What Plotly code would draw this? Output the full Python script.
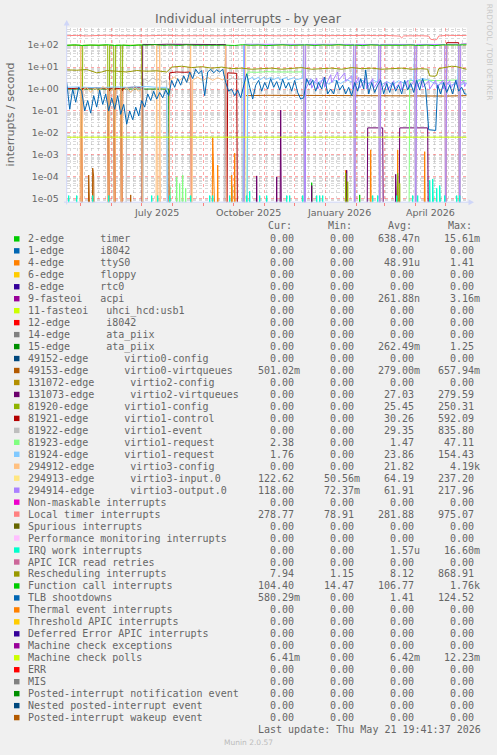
import plotly.graph_objects as go
import pandas as pd

W, H = 497, 755
START = pd.Timestamp("2025-04-16 19:41:37")
END = pd.Timestamp("2026-05-21 19:41:37")
ZERO = 1e-9  # a rate of zero; rrdtool draws it down to the floor of the log axis

TITLE = "Individual interrupts - by year"
Y_TITLE = "interrupts / second"
Y_TICK_VALUES = [1e-5, 1e-4, 1e-3, 1e-2, 1e-1, 1, 10, 100]
Y_TICK_LABELS = ["1e-05", "1e-04", "1e-03", "1e-02", "1e-01", "1e+00", "1e+01", "1e+02"]
X_TICK_DATES = ["2025-07-16", "2025-10-16", "2026-01-14", "2026-04-16"]
X_TICK_LABELS = ["July 2025", "October 2025", "January 2026", "April 2026"]
LAST_UPDATE = "Last update: Thu May 21 19:41:37 2026"
VERSION = "Munin 2.0.57"
WATERMARK = "RRDTOOL / TOBI OETIKER"

NAMES = [
    "2-edge      timer", "1-edge      i8042", "4-edge      ttyS0", "6-edge      floppy",
    "8-edge      rtc0", "9-fasteoi   acpi", "11-fasteoi   uhci_hcd:usb1", "12-edge      i8042",
    "14-edge      ata_piix", "15-edge      ata_piix", "49152-edge      virtio0-config",
    "49153-edge      virtio0-virtqueues", "131072-edge      virtio2-config",
    "131073-edge      virtio2-virtqueues", "81920-edge      virtio1-config",
    "81921-edge      virtio1-control", "81922-edge      virtio1-event",
    "81923-edge      virtio1-request", "81924-edge      virtio1-request",
    "294912-edge      virtio3-config", "294913-edge      virtio3-input.0",
    "294914-edge      virtio3-output.0", "Non-maskable interrupts", "Local timer interrupts",
    "Spurious interrupts", "Performance monitoring interrupts", "IRQ work interrupts",
    "APIC ICR read retries", "Rescheduling interrupts", "Function call interrupts",
    "TLB shootdowns", "Thermal event interrupts", "Threshold APIC interrupts",
    "Deferred Error APIC interrupts", "Machine check exceptions", "Machine check polls",
    "ERR", "MIS", "Posted-interrupt notification event", "Nested posted-interrupt event",
    "Posted-interrupt wakeup event",
]
COLORS = [
    "#00CC00", "#0066B3", "#FF8000", "#FFCC00", "#330099", "#990099", "#CCFF00", "#FF0000",
    "#808080", "#008F00", "#00487D", "#B35A00", "#B38F00", "#6B006B", "#8FB300", "#B30000",
    "#BEBEBE", "#80FF80", "#80C9FF", "#FFC080", "#FFE680", "#AA80FF", "#EE00CC", "#FF8080",
    "#666600", "#FFBFFF", "#00FFCC", "#CC6699", "#999900", "#00CC00", "#0066B3", "#FF8000",
    "#FFCC00", "#330099", "#990099", "#CCFF00", "#FF0000", "#808080", "#008F00", "#00487D",
    "#B35A00",
]
Z4 = "0.00"
CUR = [Z4, Z4, Z4, Z4, Z4, Z4, Z4, Z4, Z4, Z4, Z4, "501.02m", Z4, Z4, Z4, Z4, Z4, "2.38", "1.76",
       Z4, "122.62", "118.00", Z4, "278.77", Z4, Z4, Z4, Z4, "7.94", "104.40", "580.29m", Z4, Z4,
       Z4, Z4, "6.41m", Z4, Z4, Z4, Z4, Z4]
MIN = [Z4] * 20 + ["50.56m", "72.37m", Z4, "78.91", Z4, Z4, Z4, Z4, "1.15", "14.47"] + [Z4] * 11
AVG = ["638.47n", Z4, "48.91u", Z4, Z4, "261.88n", Z4, Z4, Z4, "262.49m", Z4, "279.00m", Z4,
       "27.03", "25.45", "30.26", "29.35", "1.47", "23.86", "21.82", "64.19", "61.91", Z4,
       "281.88", Z4, Z4, "1.57u", Z4, "8.12", "106.77", "1.41", Z4, Z4, Z4, Z4, "6.42m",
       Z4, Z4, Z4, Z4, Z4]
MAX = ["15.61m", Z4, "1.41", Z4, Z4, "3.16m", Z4, Z4, Z4, "1.25", Z4, "657.94m", Z4, "279.59",
       "250.31", "592.09", "835.80", "47.11", "154.43", "4.19k", "237.20", "217.96", Z4,
       "975.07", Z4, Z4, "16.60m", Z4, "868.91", "1.76k", "124.52", Z4, Z4, Z4, Z4, "12.23m",
       Z4, Z4, Z4, Z4, Z4]

# ---- series (x = days since START, y = interrupts / second) ----
TIMER_SPIKE_DAYS = [103, 165, 245, 293, 313]
TIMER_SPIKE_VALS = [3.7e-5, 4e-5, 5.4e-5, 1.5e-5, 2.5e-5]

TTYS0_SPIKE_DAYS = [146, 151, 165, 168, 279, 304, 331, 358]
TTYS0_SPIKE_VALS = [6e-3, 3.4e-4, 1.2e-4, 1.2e-3, 2e-4, 1.7e-3, 1.7e-3, 1.4e-3]

ATA15_DAYS = [0, 20, 40, 60, 80, 102, 103, 400]
ATA15_VALS = [1.0, 1.0, 0.98, 1.0, 1.0, 1.0, ZERO, ZERO]

V0Q_DAYS = [0, 21, 22, 23, 25, 26, 27, 28, 63, 64, 65, 177, 178, 200, 230, 260, 290, 320, 340,
            360, 380, 400]
V0Q_VALS = [ZERO, ZERO, 1.2e-4, ZERO, ZERO, 2.5e-4, 1.0e-4, ZERO, ZERO, 1.5e-5, ZERO, ZERO, 0.5,
            0.52, 0.5, 0.51, 0.5, 0.49, 0.47, 0.45, 0.48, 0.501]

V2Q_DAYS = [0, 75, 76, 80, 90, 100, 110, 120, 130, 140, 150, 159, 160, 189, 190, 191, 209, 210,
            211, 213, 214, 215, 244, 245, 246, 279, 280, 281, 300, 301, 316, 317, 328, 329, 330,
            332, 333, 361, 362, 392, 393, 394, 400]
V2Q_VALS = [ZERO, ZERO, 108, 110, 107, 110, 108, 110, 108, 110, 107, 108, ZERO, ZERO, 1.1e-4,
            ZERO, ZERO, 1.0e-4, ZERO, ZERO, 0.11, ZERO, ZERO, 4e-5, ZERO, ZERO, 2e-4, ZERO, ZERO,
            0.017, 0.017, ZERO, ZERO, 1.3e-4, ZERO, ZERO, 0.017, 0.017, ZERO, ZERO, 2.5e-5, ZERO,
            ZERO]

V1CFG_DAYS = [0, 14, 15, 16, 41, 42, 43, 47, 48, 49, 54, 55, 56, 75, 76, 278, 279, 280, 281, 282,
              330, 331, 332, 333, 334, 400]
V1CFG_VALS = [100, 100, ZERO, 100, 100, ZERO, 100, 100, ZERO, 100, 100, ZERO, 100, 100, ZERO,
              ZERO, 1.5e-4, ZERO, 6e-5, ZERO, ZERO, 1.5e-4, ZERO, 5e-5, ZERO, ZERO]

V1CTL_DAYS = [0, 5, 10, 14, 15, 16, 30, 41, 42, 43, 47, 48, 49, 54, 55, 56, 65, 75, 76, 102, 103,
              110, 118, 124, 125, 160, 161, 170, 171, 379, 380, 386, 392, 393, 400]
V1CTL_VALS = [1.1, 1.05, 1.1, 1.1, ZERO, 1.1, 1.15, 1.1, ZERO, 1.1, 1.1, ZERO, 1.1, 1.05, ZERO,
              1.1, 1.2, 1.2, ZERO, ZERO, 5.5, 6.0, 5.8, 6.0, ZERO, ZERO, 5.5, 5.2, ZERO, ZERO,
              130, 128, 130, ZERO, ZERO]

V1EVT_DAYS = [0, 59, 60, 64, 68, 72, 75, 76, 77, 82, 86, 90, 93, 96, 100, 101, 157, 158, 162,
              166, 170, 175, 176, 400]
V1EVT_VALS = [ZERO, ZERO, 1.2, 0.7, 1.5, 0.9, 1.3, ZERO, 3.0, 2.2, 3.2, 2.5, 2.8, 2.0, 2.5, ZERO,
              ZERO, 3.0, 2.6, 3.2, 2.7, 3.0, ZERO, ZERO]

V1REQA_DAYS = [0, 109, 110, 111, 113, 114, 116, 117, 119, 120, 180, 181, 190, 200, 210, 220,
               230, 237, 238, 342, 343, 350, 360, 370, 380, 390, 400]
V1REQA_VALS = [ZERO, ZERO, 1.0e-4, ZERO, 5e-5, ZERO, 1.2e-4, ZERO, 3e-5, ZERO, ZERO, 6.0, 5.8,
               6.2, 6.0, 5.8, 6.0, 6.1, ZERO, ZERO, 2.5, 2.3, 2.6, 2.4, 2.5, 2.6, 2.38]

V1REQB_DAYS = [0, 10, 20, 30, 40, 50, 60, 70, 80, 90, 100, 101, 176, 177, 178, 180, 181, 186,
               187, 192, 193, 198, 199, 205, 206, 212, 213, 220, 221, 228, 229, 236, 237, 238,
               239, 245, 250, 256, 262, 268, 274, 280, 286, 287, 288, 289, 295, 301, 307, 311,
               312, 313, 314, 320, 326, 332, 338, 344, 347, 348, 349, 350, 356, 361, 366, 372,
               378, 384, 390, 391, 392, 393, 394, 398, 400]
V1REQB_VALS = [1.2, 1.25, 1.2, 1.15, 1.2, 1.25, 1.2, 1.25, 1.3, 1.2, 1.2, ZERO, ZERO, 100, ZERO,
               ZERO, 2.6, 3.5, 2.6, 3.5, 2.6, 3.6, 2.7, 3.5, 2.6, 3.5, 2.6, 3.4, 2.6, 3.4, 2.6,
               3.2, 100, ZERO, 2.0, 2.8, 1.8, 2.6, 1.7, 2.5, 1.8, 2.7, 2.0, 100, ZERO, 1.8, 2.6,
               1.7, 2.5, 2.0, 100, ZERO, 1.5, 2.2, 1.6, 2.4, 1.8, 2.8, 2.2, 100, ZERO, 2.5, 3.0,
               2.7, 2.0, 1.6, 2.0, 1.5, 1.8, 1.7, 100, ZERO, 1.5, 1.9, 1.76]

V3CFG_DAYS = [0, 13, 14, 15, 16, 20, 24, 28, 32, 36, 41, 42, 43, 47, 48, 49, 54, 55, 56, 60, 64,
              68, 72, 75, 76, 89, 90, 91, 92, 93, 94, 102, 103, 108, 112, 117, 121, 123, 124,
              125, 126, 131, 136, 141, 146, 151, 156, 158, 159, 160, 400]
V3CFG_VALS = [ZERO, ZERO, 100, ZERO, 0.9, 1.2, 0.7, 1.1, 0.8, 1.3, 1.0, ZERO, 0.8, 1.1, ZERO,
              0.9, 1.0, ZERO, 0.8, 1.2, 0.7, 1.1, 0.8, 1.0, ZERO, ZERO, 100, ZERO, ZERO, 100,
              ZERO, ZERO, 2.5, 3.5, 2.4, 3.3, 2.3, 3.0, 100, ZERO, 2.5, 3.5, 2.4, 3.4, 2.5, 3.3,
              2.6, 3.0, 100, ZERO, ZERO]

V3IN_DAYS = [0, 178, 179, 200, 220, 237, 238, 239, 260, 287, 288, 289, 312, 313, 314, 348, 349,
             350, 378, 379, 380, 392, 393, 394, 400]
V3IN_VALS = [ZERO, ZERO, 98, 102, 100, 100, ZERO, 100, 98, 100, ZERO, 100, 100, ZERO, 100, 100,
             ZERO, 100, 100, ZERO, 100, 105, ZERO, 110, 122.62]

V3OUT_DAYS = [0, 177, 178, 200, 220, 237, 238, 239, 260, 287, 288, 289, 312, 313, 314, 348, 349,
              350, 378, 379, 380, 392, 393, 394, 400]
V3OUT_VALS = [ZERO, ZERO, 110, 108, 109, 108, ZERO, 108, 109, 108, ZERO, 108, 108, ZERO, 108,
              108, ZERO, 108, 108, ZERO, 108, 110, ZERO, 112, 118]

V3OUT_LOW_DAYS = [238, 239, 244, 245, 250, 251, 257, 258, 264, 265, 271, 272, 278, 279, 285, 286,
                  292, 293, 299, 300, 306, 307, 313, 314, 320, 321, 327, 328, 334, 335, 341, 342,
                  348, 349, 355, 356, 362, 363, 369, 370, 376, 377, 383, 384, 390, 391, 397, 398,
                  400]
V3OUT_LOW_VALS = [ZERO, 1.0, 3.0, 1.1, 3.2, 1.0, 3.4, 1.2, 4.5, 2.0, 6.0, 2.5, 5.5, 2.2, 4.0,
                  1.0, 3.4, 1.1, 3.2, 1.0, 3.0, 1.1, 2.8, 0.9, 2.2, 0.9, 2.4, 1.0, 2.2, 0.9, 2.5,
                  1.0, 2.6, 1.1, 2.5, 1.2, 2.4, 1.0, 2.6, 1.1, 2.5, 1.0, 2.4, 1.1, 2.6, 1.2, 2.5,
                  1.3, 2.0]

LOCAL_TIMER_DAYS = [0, 10, 20, 30, 40, 50, 60, 70, 80, 90, 100, 110, 120, 130, 140, 150, 160,
                    170, 180, 190, 200, 210, 220, 230, 240, 250, 260, 270, 280, 290, 300, 310,
                    320, 333, 335, 337, 345, 355, 362, 364, 368, 370, 372, 380, 390, 400]
LOCAL_TIMER_VALS = [270, 280, 265, 275, 285, 270, 280, 272, 268, 278, 282, 270, 275, 285, 270,
                    268, 280, 276, 272, 280, 275, 268, 282, 276, 270, 285, 272, 278, 270, 275,
                    280, 272, 278, 260, 215, 265, 275, 270, 260, 185, 175, 180, 260, 282, 276,
                    278.77]

IRQ_WORK_DAYS = [2, 10, 26, 42, 85, 91, 103, 124, 143, 146, 163, 180, 183, 193, 200, 220, 223,
                 236, 250, 253, 256, 306, 311, 330, 346, 351, 363, 366, 370, 373, 378, 390, 393]
IRQ_WORK_VALS = [1.4e-5, 1.4e-5, 1.4e-5, 1.4e-5, 1.4e-5, 1.4e-5, 1.4e-5, 1.4e-5, 1.4e-5, 1.4e-5,
                 1.4e-5, 1.4e-5, 2.2e-5, 1.4e-5, 1.4e-5, 1.4e-5, 1.4e-5, 1.4e-5, 1.4e-5, 1.4e-5,
                 1.4e-5, 1.4e-5, 1.4e-5, 1.4e-5, 1.4e-5, 1.4e-5, 7e-5, 8e-5, 3e-5, 4e-5, 1.4e-5,
                 1.4e-5, 1.4e-5]

RESCHED_DAYS = [0, 10, 20, 30, 35, 40, 50, 60, 70, 80, 90, 100, 105, 115, 125, 135, 145, 155,
                165, 175, 185, 195, 205, 215, 225, 235, 245, 255, 265, 275, 285, 295, 305, 315,
                325, 335, 345, 355, 361, 363, 368, 370, 372, 380, 385, 390, 395, 400]
RESCHED_VALS = [7.5, 7.2, 7.8, 5.5, 6.0, 7.0, 6.5, 6.0, 7.0, 6.5, 6.8, 6.0, 10.0, 11.0, 9.5,
                10.5, 9.0, 10.0, 8.5, 9.0, 8.0, 8.5, 9.0, 8.0, 8.5, 9.5, 8.0, 8.5, 9.0, 8.0, 9.5,
                8.5, 9.0, 8.0, 8.5, 9.0, 8.0, 8.5, 8.0, 4.0, 3.8, 4.2, 8.5, 9.5, 11.0, 10.5, 9.0,
                7.94]

FUNC_CALL_DAYS = list(range(0, 400, 8)) + [400]
FUNC_CALL_VALS = [98, 104, 96, 102, 99, 105, 97, 101, 95, 103, 100, 106, 98, 102, 97, 104, 99,
                  101, 96, 103, 100, 97, 105, 99, 102, 96, 101, 104, 98, 100, 103, 97, 102, 99,
                  105, 98, 101, 96, 103, 100, 98, 104, 99, 102, 97, 101, 95, 103, 99, 102, 104.4]

TLB_DAYS = list(range(0, 297 + 1, 3)) + [299, 302, 305, 308, 311, 314, 317, 320, 323, 326, 329,
                                         332, 335, 338, 341, 344, 347, 350, 353, 356, 359, 362,
                                         366, 369, 371, 374, 377, 380, 383, 386, 389, 392, 395,
                                         398, 400]
TLB_VALS = [2.0, 0.12, 1.0, 0.25, 1.2, 0.8, 0.1, 0.3, 0.08, 0.5, 0.15, 0.9, 0.2, 0.6, 0.1, 0.4,
            0.12, 0.5, 0.07, 0.2, 0.025, 0.1, 0.04, 0.15, 0.06, 0.3, 0.15, 0.6, 0.3, 0.8, 0.35,
            0.7, 0.4, 0.9, 0.5, 2.5, 1.2, 3.0, 1.5, 4.0, 2.0, 6.0, 3.0, 8.0, 5.0, 7.0, 0.5, 6.0,
            8.0, 5.5, 7.5, 6.0, 8.0, 2.0, 0.8, 1.0, 0.5, 0.9, 0.4, 1.5, 5.0, 1.2, 0.35, 1.5, 2.5,
            0.8, 2.0, 1.0, 3.0, 1.2, 2.2, 0.9, 2.8, 1.1, 2.0, 0.8, 2.5, 0.7, 0.35, 0.4, 3.0, 1.5,
            2.5, 0.8, 2.0, 1.0, 3.5, 0.6, 1.0, 0.6, 2.5, 0.9, 1.5, 0.6, 1.2, 0.5, 2.0, 0.8, 3.0,
            1.0, 7.5, 0.6, 2.0, 0.7, 1.5, 2.5, 0.6, 1.8, 0.7, 2.0, 0.8, 1.5, 0.6, 2.5, 0.9, 1.8,
            0.7, 2.5, 0.9, 3.0, 1.0, 0.014, 0.013, 0.013, 1.5, 0.6, 2.0, 0.7, 1.5, 0.6, 2.5, 0.8,
            1.2, 0.6, 0.58]

MC_POLL_DAYS = [0, 100, 200, 300, 400]
MC_POLL_VALS = [6.4e-3, 6.4e-3, 6.4e-3, 6.4e-3, 6.41e-3]


def spikes(days, vals):
    xs, ys = [0], [ZERO]
    for d, v in zip(days, vals):
        xs += [d - 1, d, d + 1]
        ys += [ZERO, v, ZERO]
    return xs + [400], ys + [ZERO]


# legend index -> (days, values); drawn in legend order like rrdtool
SERIES = [
    (0, *spikes(TIMER_SPIKE_DAYS, TIMER_SPIKE_VALS)),
    (2, *spikes(TTYS0_SPIKE_DAYS, TTYS0_SPIKE_VALS)),
    (9, ATA15_DAYS, ATA15_VALS),
    (11, V0Q_DAYS, V0Q_VALS),
    (13, V2Q_DAYS, V2Q_VALS),
    (14, V1CFG_DAYS, V1CFG_VALS),
    (15, V1CTL_DAYS, V1CTL_VALS),
    (16, V1EVT_DAYS, V1EVT_VALS),
    (17, V1REQA_DAYS, V1REQA_VALS),
    (18, V1REQB_DAYS, V1REQB_VALS),
    (19, V3CFG_DAYS, V3CFG_VALS),
    (20, V3IN_DAYS, V3IN_VALS),
    (21, V3OUT_LOW_DAYS, V3OUT_LOW_VALS),
    (21, V3OUT_DAYS, V3OUT_VALS),
    (23, LOCAL_TIMER_DAYS, LOCAL_TIMER_VALS),
    (26, *spikes(IRQ_WORK_DAYS, IRQ_WORK_VALS)),
    (28, RESCHED_DAYS, RESCHED_VALS),
    (29, FUNC_CALL_DAYS, FUNC_CALL_VALS),
    (30, TLB_DAYS, TLB_VALS),
    (35, MC_POLL_DAYS, MC_POLL_VALS),
]

FONT = "DejaVu Sans"
MONO = "DejaVu Sans Mono"
GREY = "#666666"


def px(x):
    return x / W


def py(y):
    return 1 - y / H


fig = go.Figure()
for idx, days, vals in SERIES:
    dates = START + pd.to_timedelta(days, unit="D")
    fig.add_trace(go.Scatter(x=dates, y=vals, mode="lines",
                             line=dict(color=COLORS[idx], width=1),
                             hoverinfo="skip", showlegend=False))

minor_y = [k * 10.0 ** e for e in range(-6, 3) for k in range(2, 10)]

fig.update_layout(
    width=W, height=H, autosize=False,
    margin=dict(l=0, r=0, t=0, b=0, pad=0),
    paper_bgcolor="#F0F0F0", plot_bgcolor="#FFFFFF",
    showlegend=False, hovermode=False,
    xaxis=dict(
        type="date", range=[START, END], domain=[px(66.7), px(466.7)],
        tick0="2025-05-01", dtick="M1", showticklabels=False,
        ticks="outside", ticklen=3, tickcolor="rgba(255,80,80,0.7)",
        showgrid=True, gridcolor="rgba(255,80,80,0.5)", griddash="dot", gridwidth=1,
        minor=dict(dtick=7 * 86400000, tick0="2025-04-21", showgrid=True,
                   gridcolor="rgba(170,170,170,0.45)", griddash="dot", gridwidth=1),
        showline=False, zeroline=False, fixedrange=True,
    ),
    yaxis=dict(
        type="log", range=[-5.155, 2.80], domain=[py(202.7), py(27.7)],
        tickmode="array", tickvals=Y_TICK_VALUES, ticktext=Y_TICK_LABELS,
        tickfont=dict(family=FONT, size=9.3, color=GREY), ticks="", ticklabelstandoff=7,
        showgrid=True, gridcolor="rgba(255,80,80,0.5)", griddash="dot", gridwidth=1,
        minor=dict(tickmode="array", tickvals=minor_y, showgrid=True,
                   gridcolor="rgba(170,170,170,0.45)", griddash="dot", gridwidth=1),
        showline=False, zeroline=False, fixedrange=True,
    ),
)

ann = []
shapes = []
ann.append(dict(text=TITLE, x=px(248.5), y=py(19), xref="paper", yref="paper",
                xanchor="center", yanchor="middle", showarrow=False,
                font=dict(family=FONT, size=12.5, color=GREY)))
ann.append(dict(text=Y_TITLE, x=px(10.7), y=py(115), xref="paper", yref="paper",
                xanchor="center", yanchor="middle", showarrow=False, textangle=-90,
                font=dict(family=FONT, size=11, color=GREY)))
ann.append(dict(text=WATERMARK, x=px(489), y=py(52), xref="paper", yref="paper",
                xanchor="center", yanchor="middle", showarrow=False, textangle=90,
                font=dict(family=FONT, size=7.5, color="#C8C8C8")))
for d, lab in zip(X_TICK_DATES, X_TICK_LABELS):
    ann.append(dict(text=lab, x=d, y=py(212.7), xref="x", yref="paper",
                    xanchor="center", yanchor="middle", showarrow=False,
                    font=dict(family=FONT, size=9.5, color=GREY)))

# axes with arrows (rrdtool style)
AXIS = "#CFD6F8"
shapes.append(dict(type="line", xref="paper", yref="paper", x0=px(64), x1=px(470),
                   y0=py(202.7), y1=py(202.7), line=dict(color=AXIS, width=1)))
shapes.append(dict(type="line", xref="paper", yref="paper", x0=px(66.7), x1=px(66.7),
                   y0=py(205), y1=py(24), line=dict(color=AXIS, width=1)))
shapes.append(dict(type="path", xref="paper", yref="paper",
                   path=f"M {px(474)},{py(202.7)} L {px(468.5)},{py(199.7)} L {px(468.5)},{py(205.7)} Z",
                   fillcolor=AXIS, line=dict(width=0)))
shapes.append(dict(type="path", xref="paper", yref="paper",
                   path=f"M {px(66.7)},{py(20)} L {px(63.7)},{py(25.5)} L {px(69.7)},{py(25.5)} Z",
                   fillcolor=AXIS, line=dict(width=0)))

# legend table
NB = "\u00a0"
for txt, xl in zip(["Cur:", "Min:", "Avg:", "Max:"], [266, 326, 386, 446]):
    ann.append(dict(text=txt, x=px(xl), y=py(226.5), xref="paper", yref="paper",
                    xanchor="left", yanchor="middle", showarrow=False,
                    font=dict(family=MONO, size=10, color=GREY)))
for i, name in enumerate(NAMES):
    yc = 239.5 + 12 * i
    shapes.append(dict(type="rect", xref="paper", yref="paper", x0=px(14), x1=px(19.5),
                       y0=py(yc + 2.7), y1=py(yc - 2.7), fillcolor=COLORS[i],
                       line=dict(width=0)))
    ann.append(dict(text=name.replace(" ", NB), x=px(26), y=py(yc), xref="paper",
                    yref="paper", xanchor="left", yanchor="middle", showarrow=False,
                    font=dict(family=MONO, size=10, color=GREY)))
    for col, xr in zip([CUR, MIN, AVG, MAX], [302, 362, 422, 482]):
        s = col[i]
        s = s if s[-1].isalpha() else s + NB
        ann.append(dict(text=s, x=px(xr), y=py(yc), xref="paper", yref="paper",
                        xanchor="right", yanchor="middle", showarrow=False,
                        font=dict(family=MONO, size=10, color=GREY)))

ann.append(dict(text=LAST_UPDATE.replace(" ", NB), x=px(482.7), y=py(731), xref="paper",
                yref="paper", xanchor="right", yanchor="middle", showarrow=False,
                font=dict(family=MONO, size=10, color=GREY)))
ann.append(dict(text=VERSION, x=px(248), y=py(744), xref="paper", yref="paper",
                xanchor="center", yanchor="middle", showarrow=False,
                font=dict(family=FONT, size=7.5, color="#BBBBBB")))

fig.update_layout(annotations=ann, shapes=shapes)
fig.write_html("out.html", config={"displayModeBar": False, "staticPlot": True},
               post_script="document.body.style.margin='0';document.body.style.overflow='hidden';")
